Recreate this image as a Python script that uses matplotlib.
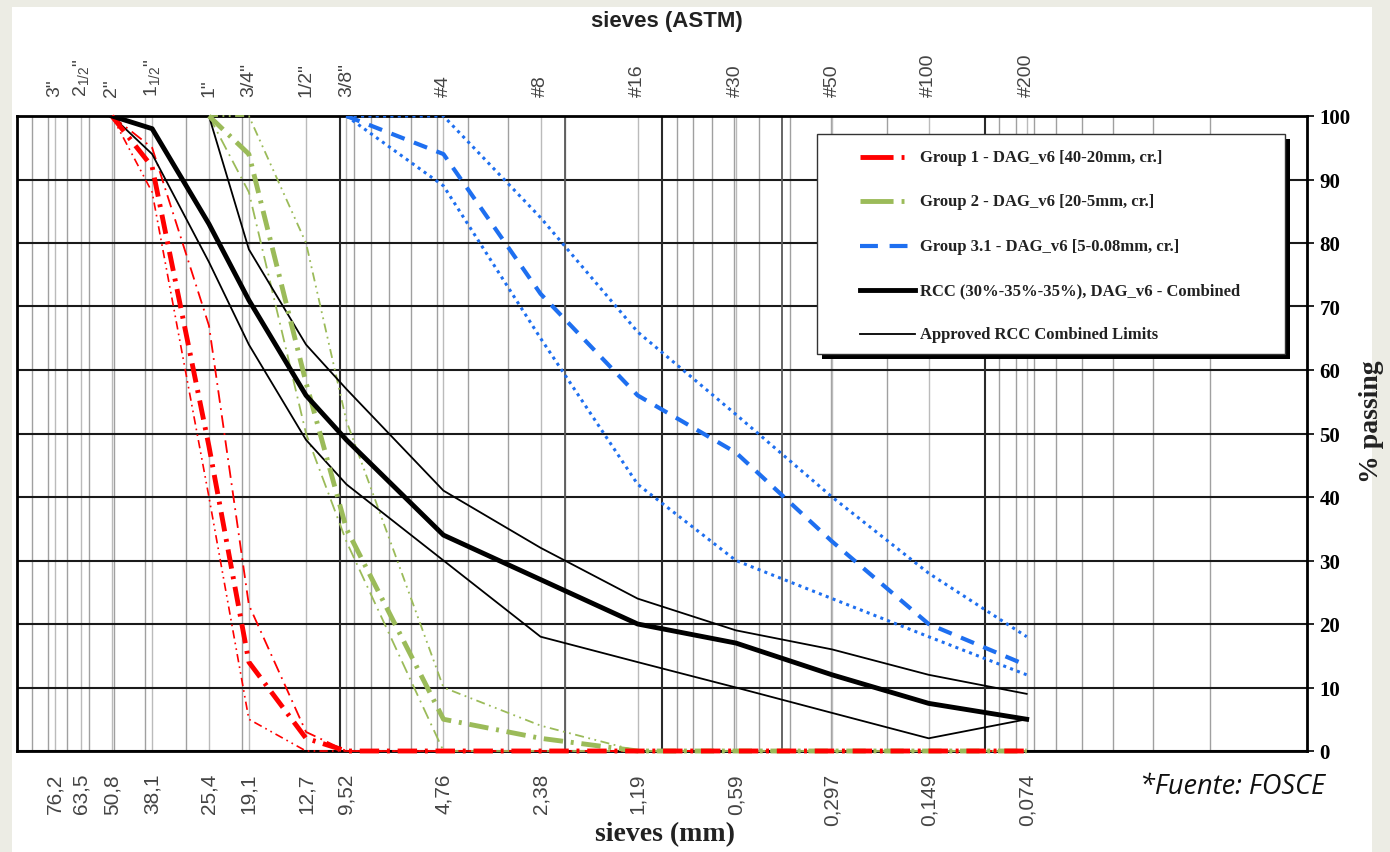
import numpy as np
import matplotlib.pyplot as plt
from matplotlib.patches import Rectangle
from matplotlib.lines import Line2D
from matplotlib.ticker import NullLocator

plt.rcParams['mathtext.default'] = 'regular'

# tamices ASTM y su abertura en mm
sieve_mm = [76.2, 63.5, 50.8, 38.1, 25.4, 19.1, 12.7, 9.52, 4.76, 2.38, 1.19, 0.59, 0.297, 0.149, 0.074]
sieve_mm_lbl = ['76,2', '63,5', '50,8', '38,1', '25,4', '19,1', '12,7', '9,52',
                '4,76', '2,38', '1,19', '0,59', '0,297', '0,149', '0,074']
sieve_astm = ['3"', '2$_{1/2}$"', '2"', '1$_{1/2}$"', '1"', '3/4"', '1/2"', '3/8"',
              '#4', '#8', '#16', '#30', '#50', '#100', '#200']

# tamices usados en las curvas
sizes = [50.8, 38.1, 25.4, 19.1, 12.7, 9.52, 4.76, 2.38, 1.19, 0.59, 0.297, 0.149, 0.074]
nan = np.nan

# Grupo 1 (40-20mm)
g1 = [100, 92, 48, 14, 2, 0, 0, 0, 0, 0, 0, 0, 0]
g1_up = [100, 95, 67, 23, 3, 0, 0, 0, 0, 0, 0, 0, 0]
g1_lo = [100, 88, 40, 5, 0, 0, 0, 0, 0, 0, 0, 0, 0]
# Grupo 2 (20-5mm)
g2 = [nan, nan, 100, 94, 58, 35, 5, 2, 0, 0, 0, 0, 0]
g2_up = [nan, nan, 100, 100, 80, 52, 10, 4, 0, 0, 0, 0, 0]
g2_lo = [nan, nan, 100, 88, 50, 33, 0, 0, 0, 0, 0, 0, 0]
# Grupo 3.1 (5-0.08mm)
g3 = [nan, nan, nan, nan, nan, 100, 94, 72, 56, 47, 33, 20, 13.5]
g3_up = [nan, nan, nan, nan, nan, 100, 100, 84, 66, 53, 40, 28, 18]
g3_lo = [nan, nan, nan, nan, nan, 100, 89, 65, 42, 30, 24, 18, 12]
# RCC combinado y limites aprobados
rcc = [100, 98, 83, 71, 56, 49, 34, 27, 20, 17, 12, 7.5, 5]
lim_up = [100, 100, 100, 79, 64, 57, 41, 32, 24, 19, 16, 12, 9]
lim_lo = [100, 94, 77, 64, 49, 42, 30, 18, 14, 10, 6, 2, 5]

legend_lbl = ['Group 1 - DAG_v6 [40-20mm, cr.]',
              'Group 2 - DAG_v6 [20-5mm, cr.]',
              'Group 3.1 - DAG_v6 [5-0.08mm, cr.]',
              'RCC (30%-35%-35%), DAG_v6 - Combined',
              'Approved RCC Combined Limits']

RED = '#FF0000'
GREEN = '#9BBB59'
BLUE = '#1E6FF0'
W, H = 1390, 853

fig = plt.figure(figsize=(W / 100, H / 100), dpi=100, facecolor='#ECECE4')
fig.add_artist(Rectangle((12 / W, 0), 1360 / W, 845 / H, transform=fig.transFigure,
                         facecolor='white', edgecolor='none', zorder=-10))

ax = fig.add_axes([17 / W, 1 - 752 / H, 1290 / W, 635 / H])
ax.set_xscale('log')
ax.set_xlim(100, 0.01)
ax.set_ylim(0, 100)
ax.xaxis.set_major_locator(NullLocator())
ax.xaxis.set_minor_locator(NullLocator())

# rejilla vertical (log) + tamices
for dec in [0.01, 0.1, 1, 10]:
    for m in range(2, 10):
        ax.axvline(m * dec, color='#a0a0a0', lw=1.0, zorder=0.5)
for s in sieve_mm:
    ax.axvline(s, color='#bbbbbb', lw=1.0, zorder=0.5)
for d in [0.1, 1, 10]:
    ax.axvline(d, color='#2a2a2a', lw=1.5, zorder=0.6)
for d in [2, 0.425]:
    ax.axvline(d, color='#5a5a5a', lw=1.3, zorder=0.6)

ax.set_yticks(range(0, 101, 10))
ax.set_yticklabels([str(v) for v in range(0, 101, 10)],
                   fontfamily='Liberation Serif', fontweight='bold', fontsize=15)
ax.yaxis.tick_right()
ax.tick_params(axis='y', direction='out', length=5, width=1.2, pad=4)
ax.yaxis.grid(True, color='#1a1a1a', lw=1.5, zorder=0.7)
ax.set_axisbelow(True)
for sp in ax.spines.values():
    sp.set_linewidth(2)
    sp.set_color('black')

# curvas
ax.plot(sizes, g1_up, color=RED, lw=1.3, ls=(0, (7, 3, 1, 3)), clip_on=False, zorder=3)
ax.plot(sizes, g1_lo, color=RED, lw=1.2, ls=(0, (5, 2.5, 1, 2.5, 1, 2.5)), clip_on=False, zorder=3)
ax.plot(sizes, g2_up, color=GREEN, lw=1.3, ls=(0, (5, 2.5, 1, 2.5, 1, 2.5)), clip_on=False, zorder=3)
ax.plot(sizes, g2_lo, color=GREEN, lw=1.3, ls=(0, (7, 3, 1, 3)), clip_on=False, zorder=3)
ax.plot(sizes, g3_up, color=BLUE, lw=2.2, ls=(0, (1, 1.4)), zorder=3)
ax.plot(sizes, g3_lo, color=BLUE, lw=2.2, ls=(0, (1, 1.4)), zorder=3)
ax.plot(sizes, lim_up, color='black', lw=1.3, zorder=4)
ax.plot(sizes, lim_lo, color='black', lw=1.3, zorder=4)
ax.plot(sizes, g2, color=GREEN, lw=3.5, ls=(0, (4, 1.6, 0.6, 1.6)), clip_on=False, zorder=5)
ax.plot(sizes, g1, color=RED, lw=3.5, ls=(0, (4, 1.6, 0.6, 1.6)), clip_on=False, zorder=5)
ax.plot(sizes, g3, color=BLUE, lw=3.0, ls=(0, (3.4, 2.4)), zorder=5)
ax.plot(sizes, rcc, color='black', lw=3.5, zorder=6)

# etiquetas de tamices arriba (ASTM) y abajo (mm)
top_tr = ax.get_xaxis_transform()
for s, t in zip(sieve_mm, sieve_astm):
    ax.text(s, 1 + 20 / 635, t, transform=top_tr, rotation=90, ha='center', va='bottom',
            fontsize=14, color='#444444', fontfamily='Liberation Sans')
for s, t in zip(sieve_mm, sieve_mm_lbl):
    ax.text(s, -22 / 635, t, transform=top_tr, rotation=90, ha='center', va='top',
            fontsize=15, color='#444444', fontfamily='Liberation Sans')

fig.text(667 / W, 1 - 22 / H, 'sieves (ASTM)', ha='center', va='center', fontsize=16,
         fontweight='bold', fontfamily='Liberation Sans', color='#222222')
fig.text(665 / W, 1 - 835 / H, 'sieves (mm)', ha='center', va='center', fontsize=20,
         fontweight='bold', fontfamily='Liberation Serif', color='#222222')
fig.text(1372 / W, 1 - 422 / H, '% passing', rotation=90, ha='center', va='center',
         fontsize=20, fontweight='bold', fontfamily='Liberation Serif', color='#222222')
fig.text(1140 / W, 1 - 787 / H, '*Fuente: FOSCE', ha='left', va='center', fontsize=19.5,
         style='italic', fontfamily='Open Sans', color='#111111')

# leyenda dibujada a mano (caja con sombra negra)
lx0, ly0, lx1, ly1 = 817, 135, 1285, 355
fig.add_artist(Rectangle(((lx0 + 5) / W, 1 - (ly1 + 5) / H), (lx1 - lx0) / W, (ly1 - ly0) / H,
                         transform=fig.transFigure, facecolor='black', edgecolor='none', zorder=7))
fig.add_artist(Rectangle((lx0 / W, 1 - ly1 / H), (lx1 - lx0) / W, (ly1 - ly0) / H,
                         transform=fig.transFigure, facecolor='white', edgecolor='#333333',
                         lw=1.0, zorder=8))
leg_styles = [dict(color=RED, lw=3.5, ls=(0, (6.8, 1.65, 0.6, 5))),
              dict(color=GREEN, lw=3.5, ls=(0, (6.8, 1.65, 0.6, 5))),
              dict(color=BLUE, lw=3.0, ls=(0, (4.3, 2.8))),
              dict(color='black', lw=3.5),
              dict(color='black', lw=1.3)]
for i, (lbl, st) in enumerate(zip(legend_lbl, leg_styles)):
    yy = 1 - (158 + i * 44.3) / H
    fig.add_artist(Line2D([860 / W, 915 / W], [yy, yy], transform=fig.transFigure, zorder=9, **st))
    fig.text(920 / W, yy, lbl, ha='left', va='center', fontsize=12, fontweight='bold',
             fontfamily='Liberation Serif', color='#222222', zorder=9)

fig.savefig('out.png', dpi=100, facecolor=fig.get_facecolor())
